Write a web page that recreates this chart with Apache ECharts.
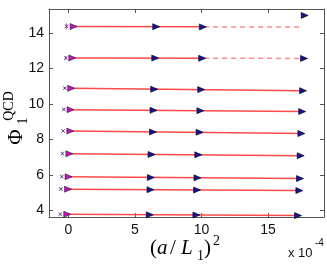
<!DOCTYPE html>
<html><head><meta charset="utf-8">
<script src="https://cdn.jsdelivr.net/npm/echarts@6/dist/echarts.min.js"></script>
<style>html,body{margin:0;padding:0;background:#fff}#c{width:327px;height:273px}</style>
</head><body><div id="c"></div>
<script>
// x values in units of 1e-4, per row (top row first)
const xRows = [
  [0.40, 6.60, 10.10, 17.75],
  [0.30, 6.53, 10.05, 17.70],
  [0.22, 6.45, 9.98, 17.63],
  [0.17, 6.40, 9.92, 17.56],
  [0.15, 6.36, 9.86, 17.50],
  [0.08, 6.25, 9.76, 17.45],
  [0.02, 6.20, 9.70, 17.40],
  [-0.02, 6.17, 9.67, 17.35],
  [-0.08, 6.12, 9.62, 17.25]
];
const yRows = [
  [14.37, 14.36, 14.35, 15.00],
  [12.60, 12.59, 12.58, 12.57],
  [10.88, 10.83, 10.81, 10.75],
  [9.68, 9.64, 9.62, 9.57],
  [8.47, 8.42, 8.40, 8.33],
  [7.19, 7.15, 7.13, 7.08],
  [5.89, 5.85, 5.83, 5.79],
  [5.19, 5.16, 5.14, 5.11],
  [3.77, 3.74, 3.73, 3.70]
];
// continuum points (crosses) and their errors
const xCont = [-0.14, -0.19, -0.26, -0.34, -0.39, -0.44, -0.49, -0.56, -0.60];
const yCont = [14.38, 12.60, 10.89, 9.69, 8.48, 7.20, 5.90, 5.20, 3.78];
const errCont = [0.17, 0.10, 0.06, 0.05, 0.05, 0.05, 0.05, 0.04, 0.04];
// linear fits: value at start and at end of each line
const fitLeft  = [14.37, 12.60, 10.88, 9.68, 8.47, 7.19, 5.89, 5.19, 3.77];
const fitRight = [14.34, 12.57, 10.75, 9.57, 8.33, 7.08, 5.79, 5.11, 3.70];
const fitEndX  = [17.6, 17.7, 17.63, 17.56, 17.5, 17.45, 17.4, 17.35, 17.25];
const dashFrom = [10.2, 10.2, null, null, null, null, null, null, null];
const xTicks = [0, 5, 10, 15];
const yTicks = [4, 6, 8, 10, 12, 14];

const series = [];
for (let i = 0; i < xRows.length; i++) {
  const x0 = xRows[i][0], x1 = fitEndX[i];
  const yAt = x => fitLeft[i] + (fitRight[i] - fitLeft[i]) * (x - x0) / (x1 - x0);
  if (dashFrom[i] != null) {
    series.push({type:'line', data:[[x0, fitLeft[i]], [dashFrom[i], yAt(dashFrom[i])]], symbol:'none', silent:true,
      lineStyle:{color:'#ff4a4a', width:1.5}, z:1});
    series.push({type:'line', data:[[dashFrom[i], yAt(dashFrom[i])], [x1, fitRight[i]]], symbol:'none', silent:true,
      lineStyle:{color:'#ff8c8c', width:1.5, type:[5,4]}, z:1});
  } else {
    series.push({type:'line', data:[[x0, fitLeft[i]], [x1, fitRight[i]]], symbol:'none', silent:true,
      lineStyle:{color:'#ff4a4a', width:1.5}, z:1});
  }
}
const firstCol = [], otherCols = [];
xRows.forEach((r, i) => r.forEach((x, j) => (j === 0 ? firstCol : otherCols).push([x, yRows[i][j]])));
series.push({type:'scatter', data: otherCols, symbol:'triangle', symbolRotate:-90, symbolSize:[6,7],
  itemStyle:{color:'#12129a', borderColor:'#000', borderWidth:0.6, opacity:1}, z:5});
series.push({type:'scatter', data: firstCol, symbol:'triangle', symbolRotate:-90, symbolSize:[6,7],
  itemStyle:{color:'#c410c4', borderColor:'#222', borderWidth:0.6, opacity:1}, z:5});
// error bars of continuum points
const errData = xCont.map((x, i) => ({value:[x, yCont[i]], symbolSize:[1.2, errCont[i] * 2 * 17.67]}));
series.push({type:'scatter', data: errData, symbol:'rect', itemStyle:{color:'#e050e8', opacity:1}, z:3});
series.push({type:'scatter', data: xCont.map((x, i) => [x, yCont[i]]),
  symbol:'path://M0,1L1,0L5,4L9,0L10,1L6,5L10,9L9,10L5,6L1,10L0,9L4,5Z', symbolSize:4,
  itemStyle:{color:'#3a2060', opacity:1}, z:4});

const axLine = {show:true, onZero:false, lineStyle:{color:'#555', width:1}};
const chart = echarts.init(document.getElementById('c'), null, {renderer:'canvas'});
const txt = (text, x, y, size, opts) => Object.assign({type:'text', x, y,
  style:{text, fontSize:size, fontFamily:'Liberation Serif', fill:'#000', align:'left', verticalAlign:'middle'}}, opts || {});
chart.setOption({
  animation:false,
  grid:{left:49, right:3, top:9, bottom:56},
  xAxis:[
    {type:'value', min:-1.45, max:19.2, position:'bottom', axisLine:axLine,
     axisTick:{inside:true, length:4, customValues:xTicks, lineStyle:{color:'#555'}},
     axisLabel:{customValues:xTicks, color:'#111', fontSize:14, fontFamily:'Liberation Sans Narrow, Liberation Sans', margin:6},
     splitLine:{show:false}},
    {type:'value', min:-1.45, max:19.2, position:'top', axisLine:axLine,
     axisTick:{inside:true, length:4, customValues:xTicks, lineStyle:{color:'#555'}},
     axisLabel:{show:false}, splitLine:{show:false}}
  ],
  yAxis:[
    {type:'value', min:3.62, max:15.36, position:'left', axisLine:axLine,
     axisTick:{inside:true, length:4, customValues:yTicks, lineStyle:{color:'#555'}},
     axisLabel:{customValues:yTicks, color:'#111', fontSize:14, fontFamily:'Liberation Sans Narrow, Liberation Sans', margin:5},
     splitLine:{show:false}},
    {type:'value', min:3.62, max:15.36, position:'right', axisLine:axLine,
     axisTick:{inside:true, length:4, customValues:yTicks, lineStyle:{color:'#555'}},
     axisLabel:{show:false}, splitLine:{show:false}}
  ],
  series: series,
  graphic:[
    txt('(', 150, 248, 21),
    txt('a', 157, 248, 21, {style:{text:'a', fontSize:21, fontFamily:'Liberation Serif', fontStyle:'italic', fill:'#000', verticalAlign:'middle'}}),
    txt('/', 170, 248, 21),
    txt('L', 181, 248, 21, {style:{text:'L', fontSize:21, fontFamily:'Liberation Serif', fontStyle:'italic', fill:'#000', verticalAlign:'middle'}}),
    txt('1', 197, 256, 14),
    txt(')', 204, 248, 21),
    txt('2', 213, 241, 14),
    txt('Φ', 16, 137, 21, {rotation:Math.PI/2, style:{text:'Φ', fontSize:21, fontFamily:'Liberation Serif', fill:'#000', align:'center', verticalAlign:'middle'}}),
    txt('1', 23, 121, 14, {rotation:Math.PI/2, style:{text:'1', fontSize:14, fontFamily:'Liberation Serif', fill:'#000', align:'center', verticalAlign:'middle'}}),
    txt('QCD', 9, 106, 14, {rotation:Math.PI/2, style:{text:'QCD', fontSize:14, fontFamily:'Liberation Serif', fill:'#000', align:'center', verticalAlign:'middle'}}),
    {type:'text', x:288, y:253, style:{text:'x 10', fontSize:13, fontFamily:'Liberation Sans Narrow, Liberation Sans', fill:'#111', verticalAlign:'middle'}},
    {type:'text', x:315, y:243, style:{text:'-4', fontSize:10, fontFamily:'Liberation Sans Narrow, Liberation Sans', fill:'#111', verticalAlign:'middle'}}
  ]
});
</script></body></html>
